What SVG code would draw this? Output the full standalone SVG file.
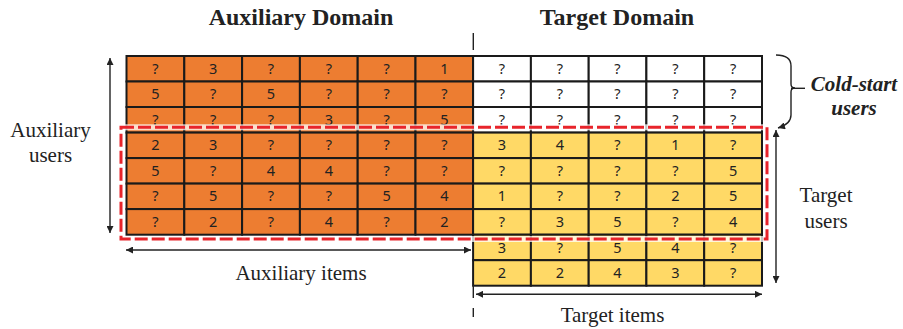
<svg xmlns="http://www.w3.org/2000/svg" width="903" height="329" viewBox="0 0 903 329">
<style>
.a{fill:#ED7D31;stroke:#1a1a1a;stroke-width:2}
.t{fill:#FFD966;stroke:#1a1a1a;stroke-width:2}
.w{fill:#ffffff;stroke:#1a1a1a;stroke-width:2}
.n{font-family:"Noto Sans","Open Sans",sans-serif;font-size:14.5px;fill:#222;text-anchor:middle}
.lbl{font-family:"Liberation Serif","Times New Roman",serif;font-size:21px;fill:#222;text-anchor:middle}
.ttl{font-family:"Liberation Serif","Times New Roman",serif;font-size:24px;font-weight:bold;fill:#222;text-anchor:middle}
.cs{font-family:"Liberation Serif","Times New Roman",serif;font-size:21px;font-weight:bold;font-style:italic;fill:#222;text-anchor:middle}
.ar{stroke:#222;stroke-width:1.4;fill:none}
</style>
<defs>
<marker id="ah" viewBox="0 0 10 10" refX="10" refY="5" markerWidth="9" markerHeight="7" markerUnits="userSpaceOnUse" orient="auto-start-reverse">
<path d="M0,0 L10,5 L0,10 z" fill="#222"/>
</marker>
</defs>

<g id="title-aux"><text class="ttl" x="301" y="25">Auxiliary Domain</text></g>
<g id="title-target"><text class="ttl" x="617" y="25">Target Domain</text></g>

<g id="aux-matrix">
<rect class="a" x="126.5" y="56" width="57.8" height="25.5"/><text class="n" x="155.4" y="73.8">?</text>
<rect class="a" x="184.3" y="56" width="57.8" height="25.5"/><text class="n" x="213.2" y="73.8">3</text>
<rect class="a" x="242.1" y="56" width="57.8" height="25.5"/><text class="n" x="271" y="73.8">?</text>
<rect class="a" x="299.9" y="56" width="57.8" height="25.5"/><text class="n" x="328.8" y="73.8">?</text>
<rect class="a" x="357.7" y="56" width="57.8" height="25.5"/><text class="n" x="386.6" y="73.8">?</text>
<rect class="a" x="415.5" y="56" width="57.6" height="25.5"/><text class="n" x="444.3" y="73.8">1</text>

<rect class="a" x="126.5" y="81.5" width="57.8" height="25.5"/><text class="n" x="155.4" y="99.3">5</text>
<rect class="a" x="184.3" y="81.5" width="57.8" height="25.5"/><text class="n" x="213.2" y="99.3">?</text>
<rect class="a" x="242.1" y="81.5" width="57.8" height="25.5"/><text class="n" x="271" y="99.3">5</text>
<rect class="a" x="299.9" y="81.5" width="57.8" height="25.5"/><text class="n" x="328.8" y="99.3">?</text>
<rect class="a" x="357.7" y="81.5" width="57.8" height="25.5"/><text class="n" x="386.6" y="99.3">?</text>
<rect class="a" x="415.5" y="81.5" width="57.6" height="25.5"/><text class="n" x="444.3" y="99.3">?</text>

<rect class="a" x="126.5" y="107" width="57.8" height="25.6"/><text class="n" x="155.4" y="124.8">?</text>
<rect class="a" x="184.3" y="107" width="57.8" height="25.6"/><text class="n" x="213.2" y="124.8">?</text>
<rect class="a" x="242.1" y="107" width="57.8" height="25.6"/><text class="n" x="271" y="124.8">?</text>
<rect class="a" x="299.9" y="107" width="57.8" height="25.6"/><text class="n" x="328.8" y="124.8">3</text>
<rect class="a" x="357.7" y="107" width="57.8" height="25.6"/><text class="n" x="386.6" y="124.8">?</text>
<rect class="a" x="415.5" y="107" width="57.6" height="25.6"/><text class="n" x="444.3" y="124.8">5</text>

<rect class="a" x="126.5" y="132.6" width="57.8" height="25.5"/><text class="n" x="155.4" y="150.4">2</text>
<rect class="a" x="184.3" y="132.6" width="57.8" height="25.5"/><text class="n" x="213.2" y="150.4">3</text>
<rect class="a" x="242.1" y="132.6" width="57.8" height="25.5"/><text class="n" x="271" y="150.4">?</text>
<rect class="a" x="299.9" y="132.6" width="57.8" height="25.5"/><text class="n" x="328.8" y="150.4">?</text>
<rect class="a" x="357.7" y="132.6" width="57.8" height="25.5"/><text class="n" x="386.6" y="150.4">?</text>
<rect class="a" x="415.5" y="132.6" width="57.6" height="25.5"/><text class="n" x="444.3" y="150.4">?</text>

<rect class="a" x="126.5" y="158.1" width="57.8" height="25.5"/><text class="n" x="155.4" y="175.9">5</text>
<rect class="a" x="184.3" y="158.1" width="57.8" height="25.5"/><text class="n" x="213.2" y="175.9">?</text>
<rect class="a" x="242.1" y="158.1" width="57.8" height="25.5"/><text class="n" x="271" y="175.9">4</text>
<rect class="a" x="299.9" y="158.1" width="57.8" height="25.5"/><text class="n" x="328.8" y="175.9">4</text>
<rect class="a" x="357.7" y="158.1" width="57.8" height="25.5"/><text class="n" x="386.6" y="175.9">?</text>
<rect class="a" x="415.5" y="158.1" width="57.6" height="25.5"/><text class="n" x="444.3" y="175.9">?</text>

<rect class="a" x="126.5" y="183.6" width="57.8" height="25.5"/><text class="n" x="155.4" y="201.4">?</text>
<rect class="a" x="184.3" y="183.6" width="57.8" height="25.5"/><text class="n" x="213.2" y="201.4">5</text>
<rect class="a" x="242.1" y="183.6" width="57.8" height="25.5"/><text class="n" x="271" y="201.4">?</text>
<rect class="a" x="299.9" y="183.6" width="57.8" height="25.5"/><text class="n" x="328.8" y="201.4">?</text>
<rect class="a" x="357.7" y="183.6" width="57.8" height="25.5"/><text class="n" x="386.6" y="201.4">5</text>
<rect class="a" x="415.5" y="183.6" width="57.6" height="25.5"/><text class="n" x="444.3" y="201.4">4</text>

<rect class="a" x="126.5" y="209.1" width="57.8" height="25.6"/><text class="n" x="155.4" y="226.9">?</text>
<rect class="a" x="184.3" y="209.1" width="57.8" height="25.6"/><text class="n" x="213.2" y="226.9">2</text>
<rect class="a" x="242.1" y="209.1" width="57.8" height="25.6"/><text class="n" x="271" y="226.9">?</text>
<rect class="a" x="299.9" y="209.1" width="57.8" height="25.6"/><text class="n" x="328.8" y="226.9">4</text>
<rect class="a" x="357.7" y="209.1" width="57.8" height="25.6"/><text class="n" x="386.6" y="226.9">?</text>
<rect class="a" x="415.5" y="209.1" width="57.6" height="25.6"/><text class="n" x="444.3" y="226.9">2</text>
</g>

<g id="target-matrix">
<rect class="w" x="473.1" y="56" width="57.8" height="25.5"/><text class="n" x="502" y="73.8">?</text>
<rect class="w" x="530.9" y="56" width="57.8" height="25.5"/><text class="n" x="559.8" y="73.8">?</text>
<rect class="w" x="588.7" y="56" width="57.7" height="25.5"/><text class="n" x="617.5" y="73.8">?</text>
<rect class="w" x="646.4" y="56" width="57.8" height="25.5"/><text class="n" x="675.3" y="73.8">?</text>
<rect class="w" x="704.2" y="56" width="57.8" height="25.5"/><text class="n" x="733.1" y="73.8">?</text>

<rect class="w" x="473.1" y="81.5" width="57.8" height="25.5"/><text class="n" x="502" y="99.3">?</text>
<rect class="w" x="530.9" y="81.5" width="57.8" height="25.5"/><text class="n" x="559.8" y="99.3">?</text>
<rect class="w" x="588.7" y="81.5" width="57.7" height="25.5"/><text class="n" x="617.5" y="99.3">?</text>
<rect class="w" x="646.4" y="81.5" width="57.8" height="25.5"/><text class="n" x="675.3" y="99.3">?</text>
<rect class="w" x="704.2" y="81.5" width="57.8" height="25.5"/><text class="n" x="733.1" y="99.3">?</text>

<rect class="w" x="473.1" y="107" width="57.8" height="25.6"/><text class="n" x="502" y="124.8">?</text>
<rect class="w" x="530.9" y="107" width="57.8" height="25.6"/><text class="n" x="559.8" y="124.8">?</text>
<rect class="w" x="588.7" y="107" width="57.7" height="25.6"/><text class="n" x="617.5" y="124.8">?</text>
<rect class="w" x="646.4" y="107" width="57.8" height="25.6"/><text class="n" x="675.3" y="124.8">?</text>
<rect class="w" x="704.2" y="107" width="57.8" height="25.6"/><text class="n" x="733.1" y="124.8">?</text>

<rect class="t" x="473.1" y="132.6" width="57.8" height="25.5"/><text class="n" x="502" y="150.4">3</text>
<rect class="t" x="530.9" y="132.6" width="57.8" height="25.5"/><text class="n" x="559.8" y="150.4">4</text>
<rect class="t" x="588.7" y="132.6" width="57.7" height="25.5"/><text class="n" x="617.5" y="150.4">?</text>
<rect class="t" x="646.4" y="132.6" width="57.8" height="25.5"/><text class="n" x="675.3" y="150.4">1</text>
<rect class="t" x="704.2" y="132.6" width="57.8" height="25.5"/><text class="n" x="733.1" y="150.4">?</text>

<rect class="t" x="473.1" y="158.1" width="57.8" height="25.5"/><text class="n" x="502" y="175.9">?</text>
<rect class="t" x="530.9" y="158.1" width="57.8" height="25.5"/><text class="n" x="559.8" y="175.9">?</text>
<rect class="t" x="588.7" y="158.1" width="57.7" height="25.5"/><text class="n" x="617.5" y="175.9">?</text>
<rect class="t" x="646.4" y="158.1" width="57.8" height="25.5"/><text class="n" x="675.3" y="175.9">?</text>
<rect class="t" x="704.2" y="158.1" width="57.8" height="25.5"/><text class="n" x="733.1" y="175.9">5</text>

<rect class="t" x="473.1" y="183.6" width="57.8" height="25.5"/><text class="n" x="502" y="201.4">1</text>
<rect class="t" x="530.9" y="183.6" width="57.8" height="25.5"/><text class="n" x="559.8" y="201.4">?</text>
<rect class="t" x="588.7" y="183.6" width="57.7" height="25.5"/><text class="n" x="617.5" y="201.4">?</text>
<rect class="t" x="646.4" y="183.6" width="57.8" height="25.5"/><text class="n" x="675.3" y="201.4">2</text>
<rect class="t" x="704.2" y="183.6" width="57.8" height="25.5"/><text class="n" x="733.1" y="201.4">5</text>

<rect class="t" x="473.1" y="209.1" width="57.8" height="25.6"/><text class="n" x="502" y="226.9">?</text>
<rect class="t" x="530.9" y="209.1" width="57.8" height="25.6"/><text class="n" x="559.8" y="226.9">3</text>
<rect class="t" x="588.7" y="209.1" width="57.7" height="25.6"/><text class="n" x="617.5" y="226.9">5</text>
<rect class="t" x="646.4" y="209.1" width="57.8" height="25.6"/><text class="n" x="675.3" y="226.9">?</text>
<rect class="t" x="704.2" y="209.1" width="57.8" height="25.6"/><text class="n" x="733.1" y="226.9">4</text>

<rect class="t" x="473.1" y="234.7" width="57.8" height="25.5"/><text class="n" x="502" y="252.5">3</text>
<rect class="t" x="530.9" y="234.7" width="57.8" height="25.5"/><text class="n" x="559.8" y="252.5">?</text>
<rect class="t" x="588.7" y="234.7" width="57.7" height="25.5"/><text class="n" x="617.5" y="252.5">5</text>
<rect class="t" x="646.4" y="234.7" width="57.8" height="25.5"/><text class="n" x="675.3" y="252.5">4</text>
<rect class="t" x="704.2" y="234.7" width="57.8" height="25.5"/><text class="n" x="733.1" y="252.5">?</text>

<rect class="t" x="473.1" y="260.2" width="57.8" height="25.5"/><text class="n" x="502" y="278">2</text>
<rect class="t" x="530.9" y="260.2" width="57.8" height="25.5"/><text class="n" x="559.8" y="278">2</text>
<rect class="t" x="588.7" y="260.2" width="57.7" height="25.5"/><text class="n" x="617.5" y="278">4</text>
<rect class="t" x="646.4" y="260.2" width="57.8" height="25.5"/><text class="n" x="675.3" y="278">3</text>
<rect class="t" x="704.2" y="260.2" width="57.8" height="25.5"/><text class="n" x="733.1" y="278">?</text>
</g>

<g id="overlap-box">
<rect x="121" y="127.3" width="646" height="111.7" fill="none" stroke="#ffffff" stroke-opacity="0.75" stroke-width="6"/>
<rect x="121" y="127.3" width="646" height="111.7" fill="none" stroke="#e8242b" stroke-width="3" stroke-dasharray="13 4"/>
</g>

<g id="connectors">
<path class="ar" d="M473.3,33 V50"/>
<path class="ar" d="M473.3,285 V298 M473.3,308 V317"/>
<path class="ar" d="M110,58 V233" marker-start="url(#ah)" marker-end="url(#ah)"/>
<path class="ar" d="M126,250 H471" marker-start="url(#ah)" marker-end="url(#ah)"/>
<path class="ar" d="M476,294.3 H762" marker-start="url(#ah)" marker-end="url(#ah)"/>
<path class="ar" d="M776,130 V283" marker-start="url(#ah)" marker-end="url(#ah)"/>
<path class="ar" d="M776,55 Q791,55 791,66 V84 Q791,88 795,88 Q791,88 791,92 V115 Q791,124 778,128" marker-end="url(#ah)"/>
<path class="ar" d="M791,88.3 H805"/>
</g>

<g id="label-aux-users"><text class="lbl" x="50.5" y="137">Auxiliary</text><text class="lbl" x="50.5" y="162">users</text></g>
<g id="label-aux-items"><text class="lbl" x="301" y="280">Auxiliary items</text></g>
<g id="label-target-items"><text class="lbl" x="612.5" y="321.5">Target items</text></g>
<g id="label-target-users"><text class="lbl" x="826" y="202">Target</text><text class="lbl" x="826" y="228">users</text></g>
<g id="label-cold-start"><text class="cs" x="854" y="91">Cold-start</text><text class="cs" x="854" y="115">users</text></g>
</svg>
